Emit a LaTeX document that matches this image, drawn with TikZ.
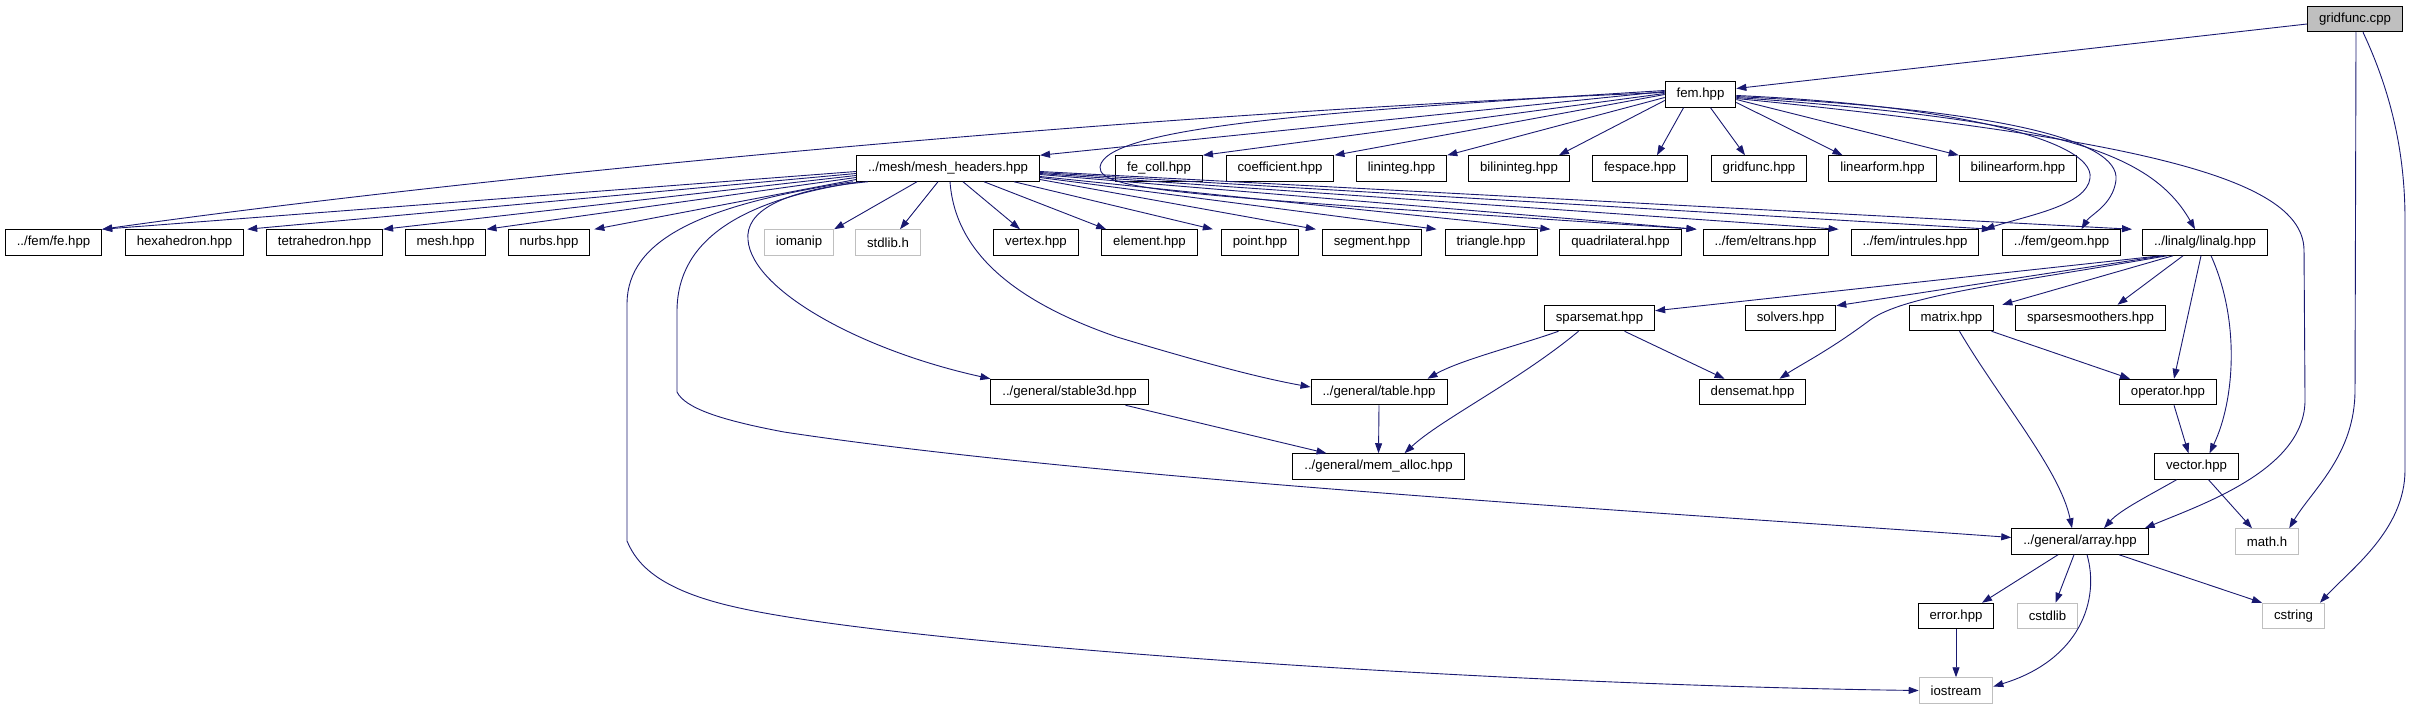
\documentclass[tikz,border=0pt]{standalone}
\usepackage{fontspec}
\setmainfont{Liberation Sans}
\usepackage{tikz}
\usetikzlibrary{arrows.meta}
\definecolor{depblue}{RGB}{25,25,112}
\definecolor{sysgray}{RGB}{191,191,191}
\tikzset{
    hdr/.style={draw=black, line width=1pt, minimum height=25.5pt, inner xsep=11.5pt, inner ysep=0pt, font=\fontsize{13.2}{15}\selectfont},
    syshdr/.style={hdr, draw=sysgray},
    srcfile/.style={hdr, fill=sysgray},
    dep/.style={draw=depblue, line width=0.9pt, -{Triangle[length=10pt,width=7pt]}},
}
\begin{document}
\begin{tikzpicture}[x=1pt, y=-1pt]
\useasboundingbox (0,0) rectangle (2411,709);

% source file and fem
\node[srcfile] (gfc) at (2355,19) {gridfunc.cpp};
\node[hdr] (fem) at (1700.5,94.5) {fem.hpp};

% fem includes
\node[hdr] (meshhdr) at (948,168.5) {../mesh/mesh\_headers.hpp};
\node[hdr] (fecoll) at (1159,168.5) {fe\_coll.hpp};
\node[hdr] (coeff) at (1280,168.5) {coefficient.hpp};
\node[hdr] (lininteg) at (1401.5,168.5) {lininteg.hpp};
\node[hdr] (bilininteg) at (1519,168.5) {bilininteg.hpp};
\node[hdr] (fespace) at (1640,168.5) {fespace.hpp};
\node[hdr] (gfhpp) at (1759,168.5) {gridfunc.hpp};
\node[hdr] (linform) at (1882.5,168.5) {linearform.hpp};
\node[hdr] (bilinform) at (2018,168.5) {bilinearform.hpp};

% mesh row
\node[hdr] (fe) at (53.5,242.5) {../fem/fe.hpp};
\node[hdr] (hexa) at (184.5,242.5) {hexahedron.hpp};
\node[hdr] (tetra) at (324.5,242.5) {tetrahedron.hpp};
\node[hdr] (meshh) at (445.5,242.5) {mesh.hpp};
\node[hdr] (nurbs) at (549,242.5) {nurbs.hpp};
\node[syshdr] (iomanip) at (799,242.5) {iomanip};
\node[syshdr] (stdlib) at (888,242.5) {stdlib.h};
\node[hdr] (vertex) at (1036,242.5) {vertex.hpp};
\node[hdr] (element) at (1149.5,242.5) {element.hpp};
\node[hdr] (point) at (1260,242.5) {point.hpp};
\node[hdr] (segment) at (1372,242.5) {segment.hpp};
\node[hdr] (triangle) at (1491,242.5) {triangle.hpp};
\node[hdr] (quad) at (1620.5,242.5) {quadrilateral.hpp};
\node[hdr] (eltrans) at (1765.5,242.5) {../fem/eltrans.hpp};
\node[hdr] (intrules) at (1915,242.5) {../fem/intrules.hpp};
\node[hdr] (geom) at (2061.5,242.5) {../fem/geom.hpp};
\node[hdr] (linalg) at (2205,242.5) {../linalg/linalg.hpp};

% linalg row
\node[hdr] (sparsemat) at (1599.5,318) {sparsemat.hpp};
\node[hdr] (solvers) at (1790.5,318) {solvers.hpp};
\node[hdr] (matrix) at (1951.5,318) {matrix.hpp};
\node[hdr] (smoothers) at (2090.5,318) {sparsesmoothers.hpp};

% general and lower rows
\node[hdr] (stable) at (1069.5,392) {../general/stable3d.hpp};
\node[hdr] (table) at (1379,392) {../general/table.hpp};
\node[hdr] (densemat) at (1752.5,392) {densemat.hpp};
\node[hdr] (operator) at (2168,392) {operator.hpp};
\node[hdr] (memalloc) at (1378.5,466.5) {../general/mem\_alloc.hpp};
\node[hdr] (vector) at (2196.5,466.5) {vector.hpp};
\node[hdr] (array) at (2080,541.5) {../general/array.hpp};
\node[syshdr] (mathh) at (2267,541.5) {math.h};
\node[hdr] (error) at (1956,616) {error.hpp};
\node[syshdr] (cstdlib) at (2047.5,616) {cstdlib};
\node[syshdr] (cstring) at (2293.5,616) {cstring};
\node[syshdr] (iostream) at (1956,690.5) {iostream};

% gridfunc.cpp
\draw[dep] ([yshift=-5pt]gfc.west) -- ([yshift=6pt]fem.east);
\draw[dep] ([xshift=1pt]gfc.south) -- (2355,390) .. controls (2355,455) and (2312,490) .. ([xshift=-10pt]mathh.north east);
\draw[dep] ([xshift=8pt]gfc.south) .. controls (2390,90) and (2405,150) .. (2405,220) -- (2405,470) .. controls (2405,530) and (2350,570) .. ([xshift=-5pt]cstring.north east);

% fem
\draw[dep] ([yshift=3pt]fem.west) -- (meshhdr.north east);
\draw[dep] ([yshift=2pt]fem.west) .. controls (1100,115) and (450,180) .. (fe.north east);
\draw[dep] ([yshift=1pt]fem.west) -- (fecoll.north east);
\draw[dep] (fem.west) -- (coeff.north east);
\draw[dep] ([yshift=-3pt]fem.west) -- (lininteg.north east);
\draw[dep] ([yshift=-6pt]fem.west) -- ([xshift=-11pt]bilininteg.north east);
\draw[dep] ([xshift=-17pt]fem.south) -- ([xshift=17pt]fespace.north);
\draw[dep] ([xshift=10pt]fem.south) -- ([xshift=-14pt]gfhpp.north);
\draw[dep] ([yshift=-8pt]fem.east) -- ([xshift=-40pt]linform.north);
\draw[dep] ([yshift=-5pt]fem.east) -- (bilinform.north west);
\draw[dep] ([yshift=4pt]fem.west) .. controls (1350,110) and (1105,125) .. (1100,167) .. controls (1098,192) and (1200,196) .. ([xshift=-6pt]eltrans.north west);
\draw[dep] ([yshift=-1pt]fem.east) .. controls (1950,105) and (2095,140) .. (2090,178) .. controls (2087,205) and (2030,215) .. ([xshift=5pt]intrules.north east);
\draw[dep] ([yshift=-2pt]fem.east) .. controls (2000,110) and (2120,140) .. (2116,180) .. controls (2113,205) and (2090,215) .. ([xshift=20pt]geom.north);
\draw[dep] ([yshift=-3pt]fem.east) .. controls (2050,120) and (2150,150) .. ([xshift=-10pt]linalg.north);
\draw[dep] ([yshift=-4pt]fem.east) .. controls (2150,140) and (2303,180) .. (2304,250) -- (2305,400) .. controls (2305,470) and (2200,505) .. ([xshift=-4pt]array.north east);

% mesh_headers, left
\draw[dep] ([yshift=-3pt]meshhdr.west) -- (fe.north east);
\draw[dep] ([yshift=-5pt]meshhdr.west) -- ([xshift=3pt]hexa.north east);
\draw[dep] ([yshift=-7pt]meshhdr.west) -- (tetra.north east);
\draw[dep] ([yshift=-9pt]meshhdr.west) -- (meshh.north east);
\draw[dep] ([yshift=-11pt]meshhdr.west) -- ([xshift=4pt]nurbs.north east);
\draw[dep] ([xshift=-31pt]meshhdr.south) -- (iomanip.north east);
\draw[dep] ([xshift=-10pt]meshhdr.south) -- ([xshift=12pt]stdlib.north);
\draw[dep] ([xshift=-80pt]meshhdr.south) .. controls (780,190) and (745,212) .. (748,240) .. controls (752,290) and (860,350) .. (stable.north west);
\draw[dep] ([xshift=-88pt]meshhdr.south) .. controls (740,200) and (678,240) .. (677,310) -- (677,392) .. controls (685,408) and (720,420) .. (784,432) .. controls (1100,480) and (1700,515) .. ([yshift=4pt]array.west);
\draw[dep] ([xshift=-95pt]meshhdr.south) .. controls (700,205) and (628,240) .. (627,303) -- (627,541) .. controls (637,565) and (660,590) .. (735,607) .. controls (900,645) and (1500,685) .. (iostream.west);

% mesh_headers, right
\draw[dep] ([xshift=2pt]meshhdr.south) .. controls (955,250) and (1010,300) .. (1117,337) .. controls (1200,362) and (1260,378) .. ([yshift=5pt]table.west);
\draw[dep] ([xshift=15pt]meshhdr.south) -- ([xshift=-16pt]vertex.north);
\draw[dep] ([xshift=36pt]meshhdr.south) -- ([xshift=5pt]element.north west);
\draw[dep] ([xshift=66pt]meshhdr.south) -- ([xshift=-8pt]point.north west);
\draw[dep] ([yshift=-11pt]meshhdr.east) -- ([xshift=-6pt]segment.north west);
\draw[dep] ([yshift=-9pt]meshhdr.east) -- ([xshift=-8pt]triangle.north west);
\draw[dep] ([yshift=-8pt]meshhdr.east) -- ([xshift=-9pt]quad.north west);
\draw[dep] ([yshift=-6pt]meshhdr.east) -- ([xshift=-6pt]eltrans.north west);
\draw[dep] ([yshift=-5pt]meshhdr.east) -- ([xshift=-12pt]intrules.north west);
\draw[dep] ([yshift=-4pt]meshhdr.east) -- ([xshift=-10pt]geom.north west);
\draw[dep] ([yshift=-3pt]meshhdr.east) -- ([xshift=-10pt]linalg.north west);

% linalg
\draw[dep] ([xshift=-44pt]linalg.south) -- ([yshift=-6pt]sparsemat.north east);
\draw[dep] ([xshift=-42pt]linalg.south) -- ([yshift=-1pt]solvers.north east);
\draw[dep] ([xshift=-38pt]linalg.south) .. controls (2000,285) and (1905,295) .. (1870,320) .. controls (1830,350) and (1800,365) .. ([xshift=27pt]densemat.north);
\draw[dep] ([xshift=-32pt]linalg.south) -- ([xshift=8pt]matrix.north east);
\draw[dep] ([xshift=-22pt]linalg.south) -- ([xshift=27pt]smoothers.north);
\draw[dep] ([xshift=-4pt]linalg.south) -- ([xshift=6pt]operator.north);
\draw[dep] ([xshift=6pt]linalg.south) .. controls (2240,320) and (2235,400) .. ([xshift=13pt]vector.north);

% sparsemat and matrix
\draw[dep] ([xshift=-41pt]sparsemat.south) .. controls (1520,345) and (1460,360) .. ([xshift=-20pt]table.north east);
\draw[dep] ([xshift=-21pt]sparsemat.south) .. controls (1520,380) and (1440,420) .. ([xshift=26pt]memalloc.north);
\draw[dep] ([xshift=25pt]sparsemat.south) -- ([xshift=-28pt]densemat.north);
\draw[dep] ([xshift=40pt]matrix.south) -- ([xshift=11pt]operator.north west);
\draw[dep] ([xshift=8pt]matrix.south) .. controls (2000,400) and (2060,470) .. ([xshift=-8pt]array.north);

% general
\draw[dep] ([xshift=56pt]stable.south) -- ([xshift=-52pt]memalloc.north);
\draw[dep] (table.south) -- (memalloc.north);
\draw[dep] ([xshift=6pt]operator.south) -- ([xshift=-8pt]vector.north);
\draw[dep] ([xshift=-20pt]vector.south) .. controls (2150,495) and (2120,510) .. ([xshift=24pt]array.north);
\draw[dep] ([xshift=12pt]vector.south) -- ([xshift=-15pt]mathh.north);
\draw[dep] ([xshift=-22pt]array.south) -- ([xshift=26pt]error.north);
\draw[dep] ([xshift=-6pt]array.south) -- ([xshift=8pt]cstdlib.north);
\draw[dep] ([xshift=7pt]array.south) .. controls (2100,600) and (2080,660) .. ([yshift=4pt]iostream.east);
\draw[dep] ([xshift=39pt]array.south) -- (cstring.north west);
\draw[dep] (error.south) -- (iostream.north);
\end{tikzpicture}
\end{document}
